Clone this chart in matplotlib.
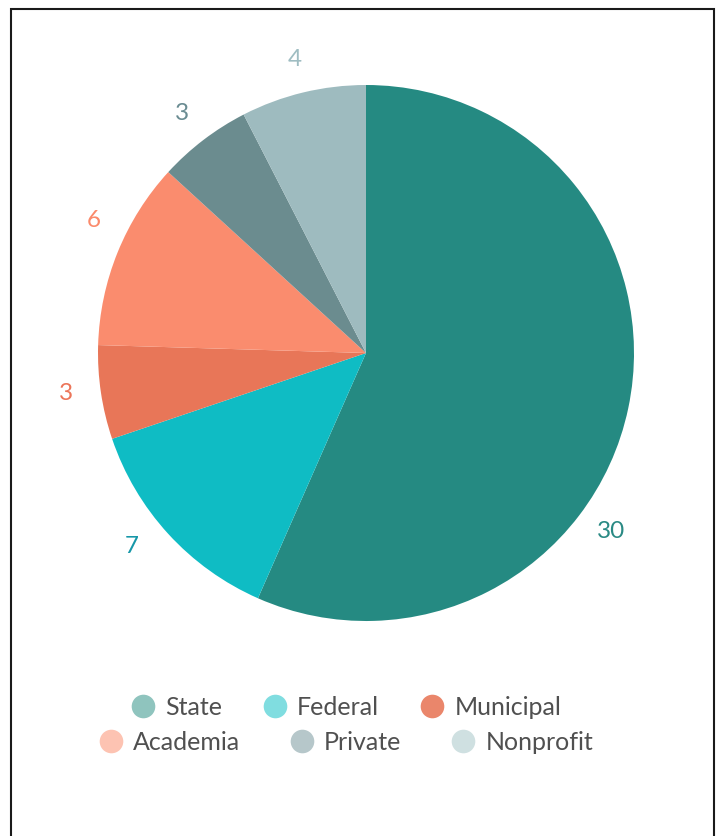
import matplotlib.pyplot as plt
import numpy as np
from matplotlib.lines import Line2D
from matplotlib.patches import Rectangle

plt.rcParams['font.family'] = ['Lato', 'DejaVu Sans']

categories = ['State', 'Federal', 'Municipal', 'Academia', 'Private', 'Nonprofit']
values = [30, 7, 3, 6, 3, 4]
slice_colors = ['#258a82', '#0fbcc4', '#e87658', '#fa8c6e', '#6b8c8f', '#9ebbbf']
label_colors = ['#2a8a84', '#1697a8', '#ec7559', '#fb8a6b', '#6a8c92', '#9fbdc2']
legend_colors = ['#8fc4be', '#80dde0', '#ea866b', '#fdc3b2', '#b6c7ca', '#cfe0e1']

fig = plt.figure(figsize=(7.2, 8.37), dpi=100)
ax = fig.add_axes([98 / 720, 1 - 622 / 837, 536 / 720, 536 / 837])

ax.pie(values, colors=slice_colors, startangle=90, counterclock=False,
       radius=1, wedgeprops=dict(linewidth=0))
ax.set_xlim(-1, 1)
ax.set_ylim(-1, 1)
ax.set_aspect('equal')
ax.axis('off')

# value labels outside the slices
total = sum(values)
cum = np.cumsum([0] + values)
shift = [-24, -3, -1, -4, 0, 0]  # nudges to match the original placement
for i, v in enumerate(values):
    mid = 90 - (cum[i] + v / 2) / total * 360 + shift[i]
    r = 1.13
    ax.text(r * np.cos(np.radians(mid)), r * np.sin(np.radians(mid)), str(v),
            color=label_colors[i], fontsize=17.5, ha='center', va='center',
            clip_on=False)

# legend in two rows
def row(idx, y, spacing):
    handles = [Line2D([], [], marker='o', linestyle='none', markersize=17,
                      markerfacecolor=legend_colors[i], markeredgewidth=0)
               for i in idx]
    leg = fig.legend(handles, [categories[i] for i in idx], ncol=3,
                     loc='center', bbox_to_anchor=(0.481, y), frameon=False,
                     fontsize=18, handlelength=0.95, handletextpad=0.4,
                     columnspacing=spacing, labelcolor='#505050')
    return leg

row([0, 1, 2], 1 - 708 / 837, 1.65)
row([3, 4, 5], 1 - 743 / 837, 2.0)

fig.add_artist(Rectangle((11 / 720, -0.02), 703 / 720, 1.02 - 9.5 / 837,
                         transform=fig.transFigure, fill=False,
                         edgecolor='#1a1a1a', linewidth=1.5))

fig.savefig('out.png', dpi=100)
